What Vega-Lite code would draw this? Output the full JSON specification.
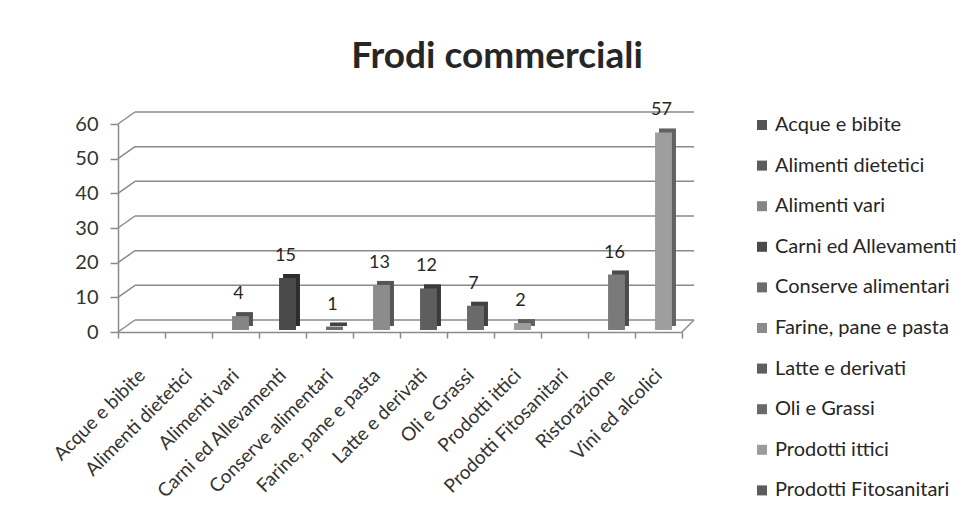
{
  "$schema": "https://vega.github.io/schema/vega-lite/v6.json",
  "width": 564,
  "height": 208,
  "autosize": {"type": "none"},
  "padding": {"left": 118, "top": 124, "right": 294, "bottom": 196},
  "background": "white",
  "config": {
    "view": {"stroke": null},
    "font": "Lato",
    "axisX": {"title": null, "domainColor": "#8a8a8a", "domainWidth": 1.5, "tickBand": "extent", "tickColor": "#8a8a8a", "tickWidth": 1.5, "tickSize": 6, "labelAngle": -45, "labelAlign": "right", "labelBaseline": "middle", "labelFontSize": 19, "labelColor": "#333333", "labelPadding": 34, "labelLimit": 0, "labelFont": "Lato", "grid": false},
    "axisY": {"title": null, "grid": false, "domainColor": "#8a8a8a", "domainWidth": 1.5, "tickColor": "#8a8a8a", "tickWidth": 1.5, "tickSize": 8, "labelFontSize": 20, "labelColor": "#333333", "labelPadding": 12, "labelFont": "Lato", "labelOverlap": false}
  },
  "title": {"text": "Frodi commerciali", "font": "Lato", "fontSize": 37, "fontWeight": "bold", "color": "#262626", "anchor": "middle", "frame": "group", "dx": 97, "offset": 25},
  "datasets": {
    "frodi": [
      {"cat": "Acque e bibite", "n": 0},
      {"cat": "Alimenti dietetici", "n": 0},
      {"cat": "Alimenti vari", "n": 4},
      {"cat": "Carni ed Allevamenti", "n": 15},
      {"cat": "Conserve alimentari", "n": 1},
      {"cat": "Farine, pane e pasta", "n": 13},
      {"cat": "Latte e derivati", "n": 12},
      {"cat": "Oli e Grassi", "n": 7},
      {"cat": "Prodotti ittici", "n": 2},
      {"cat": "Prodotti Fitosanitari", "n": 0},
      {"cat": "Ristorazione", "n": 16},
      {"cat": "Vini ed alcolici", "n": 57}
    ],
    "grid": [{"v": 0}, {"v": 10}, {"v": 20}, {"v": 30}, {"v": 40}, {"v": 50}, {"v": 60}]
  },
  "layer": [
    {
      "data": {"name": "grid"},
      "mark": {"type": "rule", "color": "#8a8a8a", "strokeWidth": 1.5, "xOffset": 17, "x2Offset": 12, "yOffset": -12},
      "encoding": {
        "x": {"datum": "Acque e bibite", "type": "nominal", "bandPosition": 0, "title": null},
        "x2": {"datum": "Vini ed alcolici", "bandPosition": 1},
        "y": {"field": "v", "type": "quantitative", "title": null, "axis": {"values": [0, 10, 20, 30, 40, 50, 60]}}
      }
    },
    {
      "data": {"name": "grid"},
      "mark": {"type": "rule", "color": "#8a8a8a", "strokeWidth": 1.5, "x2Offset": 17, "y2Offset": -12},
      "encoding": {
        "x": {"datum": "Acque e bibite", "type": "nominal", "bandPosition": 0, "title": null},
        "x2": {"datum": "Acque e bibite", "bandPosition": 0},
        "y": {"field": "v", "type": "quantitative", "title": null, "axis": {"values": [0, 10, 20, 30, 40, 50, 60]}},
        "y2": {"field": "v"}
      }
    },
    {
      "data": {"values": [{"v": 0}]},
      "mark": {"type": "rule", "color": "#8a8a8a", "strokeWidth": 1.5, "x2Offset": 12, "y2Offset": -12},
      "encoding": {
        "x": {"datum": "Vini ed alcolici", "type": "nominal", "bandPosition": 1, "title": null},
        "x2": {"datum": "Vini ed alcolici", "bandPosition": 1},
        "y": {"field": "v", "type": "quantitative", "title": null, "axis": {"values": [0, 10, 20, 30, 40, 50, 60]}},
        "y2": {"field": "v"}
      }
    },
    {
      "data": {"name": "frodi"},
      "mark": {"type": "bar", "width": {"band": 0.36}, "xOffset": 9, "yOffset": -6, "y2Offset": -6},
      "encoding": {
        "x": {"field": "cat", "type": "nominal", "sort": null, "title": null},
        "y": {"field": "n", "type": "quantitative", "title": null, "axis": {"values": [0, 10, 20, 30, 40, 50, 60]}},
        "color": {"field": "cat", "type": "nominal", "title": null}
      }
    },
    {
      "data": {"name": "frodi"},
      "mark": {"type": "bar", "color": "#000000", "opacity": 0.38, "width": {"band": 0.36}, "xOffset": 9, "yOffset": -6, "y2Offset": -6},
      "encoding": {
        "x": {"field": "cat", "type": "nominal", "sort": null, "title": null},
        "y": {"field": "n", "type": "quantitative", "title": null, "axis": {"values": [0, 10, 20, 30, 40, 50, 60]}}
      }
    },
    {
      "data": {"name": "frodi"},
      "mark": {"type": "bar", "width": {"band": 0.36}, "xOffset": 5, "yOffset": -2, "y2Offset": -2},
      "encoding": {
        "x": {
          "field": "cat", "type": "nominal", "sort": null, "title": null,
          "scale": {
            "domain": ["Acque e bibite", "Alimenti dietetici", "Alimenti vari", "Carni ed Allevamenti", "Conserve alimentari", "Farine, pane e pasta", "Latte e derivati", "Oli e Grassi", "Prodotti ittici", "Prodotti Fitosanitari", "Ristorazione", "Vini ed alcolici"],
            "paddingInner": 0, "paddingOuter": 0
          }
        },
        "y": {
          "field": "n", "type": "quantitative", "title": null,
          "scale": {"domain": [0, 60], "nice": false},
          "axis": {"values": [0, 10, 20, 30, 40, 50, 60]}
        },
        "color": {
          "field": "cat", "type": "nominal", "title": null,
          "scale": {
            "domain": ["Acque e bibite", "Alimenti dietetici", "Alimenti vari", "Carni ed Allevamenti", "Conserve alimentari", "Farine, pane e pasta", "Latte e derivati", "Oli e Grassi", "Prodotti ittici", "Prodotti Fitosanitari", "Ristorazione", "Vini ed alcolici"],
            "range": ["#555555", "#5c5c5c", "#858585", "#4a4a4a", "#6c6c6c", "#8c8c8c", "#5e5e5e", "#6a6a6a", "#9c9c9c", "#5c5c5c", "#7a7a7a", "#9e9e9e"]
          },
          "legend": {
            "orient": "none", "legendX": 634, "legendY": -9, "title": null,
            "values": ["Acque e bibite", "Alimenti dietetici", "Alimenti vari", "Carni ed Allevamenti", "Conserve alimentari", "Farine, pane e pasta", "Latte e derivati", "Oli e Grassi", "Prodotti ittici", "Prodotti Fitosanitari"],
            "symbolType": "square", "symbolSize": 100, "symbolStrokeWidth": 0, "symbolOpacity": 1,
            "labelFontSize": 20, "labelColor": "#262626", "labelFont": "Lato", "labelOffset": 3, "labelLimit": 0, "rowPadding": 20.6
          }
        }
      }
    },
    {
      "data": {"name": "frodi"},
      "transform": [{"filter": "datum.n > 0"}],
      "mark": {"type": "text", "fontSize": 18, "color": "#262626", "font": "Lato", "baseline": "alphabetic", "dy": -19, "dx": 3},
      "encoding": {
        "x": {"field": "cat", "type": "nominal", "sort": null, "title": null},
        "y": {"field": "n", "type": "quantitative", "title": null, "axis": {"values": [0, 10, 20, 30, 40, 50, 60]}},
        "text": {"field": "n", "type": "quantitative"}
      }
    }
  ]
}
